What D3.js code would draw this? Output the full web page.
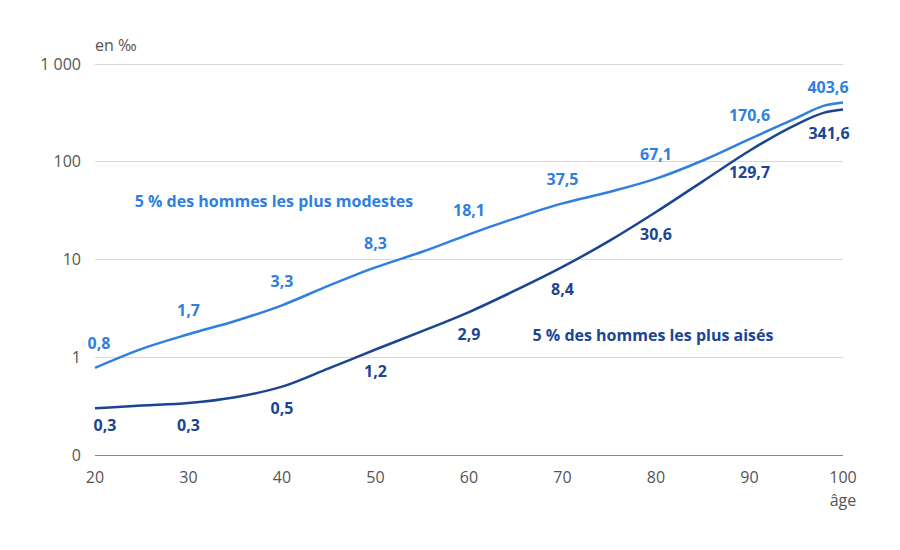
<!DOCTYPE html>
<html>
<head>
<meta charset="utf-8">
<script src="https://cdn.jsdelivr.net/npm/d3@7"></script>
<style>
  body { margin: 0; background: #fff; }
  text { font-family: "Open Sans", sans-serif; }
</style>
</head>
<body>
<svg id="chart"></svg>
<script>
// ages sampled along the curves
const ages = [20, 25, 30, 35, 40, 45, 50, 55, 60, 65, 70, 75, 80, 85, 90, 95, 98, 100];
// mortality rate, per mille
const modestes = [0.78, 1.22, 1.72, 2.35, 3.4, 5.4, 8.3, 12.0, 18.1, 26.5, 37.5, 49, 67.1, 103, 170.6, 280, 375, 403.6];
const aises    = [0.3, 0.32, 0.34, 0.39, 0.5, 0.77, 1.2, 1.85, 2.9, 4.85, 8.4, 15.5, 30.6, 63, 129.7, 240, 318, 341.6];

// labelled points
const labelAges = [20, 30, 40, 50, 60, 70, 80, 90, 100];
const modestesLabels = ["0,8", "1,7", "3,3", "8,3", "18,1", "37,5", "67,1", "170,6", "403,6"];
const aisesLabels    = ["0,3", "0,3", "0,5", "1,2", "2,9", "8,4", "30,6", "129,7", "341,6"];

const yTicks = [0.1, 1, 10, 100, 1000];
const yTickLabels = ["0", "1", "10", "100", "1 000"];
const xTicks = [20, 30, 40, 50, 60, 70, 80, 90, 100];

const lightBlue = "#2f7fe0";
const darkBlue = "#1b4592";

const W = 900, H = 550;
const margin = { top: 64, right: 57, bottom: 95, left: 95 };
const width = W - margin.left - margin.right;
const height = H - margin.top - margin.bottom;

const svg = d3.select("#chart").attr("width", W).attr("height", H);
const g = svg.append("g").attr("transform", `translate(${margin.left},${margin.top})`);

const x = d3.scaleLinear().domain([20, 100]).range([0, width]);
const y = d3.scaleLog().domain([0.1, 1000]).range([height, 0]);

// grid lines
g.selectAll(".grid")
  .data(yTicks.slice(1))
  .enter().append("line")
  .attr("x1", 0).attr("x2", width)
  .attr("y1", d => y(d)).attr("y2", d => y(d))
  .attr("stroke", "#d9d9d9").attr("stroke-width", 1)
  .attr("shape-rendering", "crispEdges");

// bottom axis line
g.append("line")
  .attr("x1", 0).attr("x2", width)
  .attr("y1", height).attr("y2", height)
  .attr("stroke", "#8a8a8a").attr("stroke-width", 1)
  .attr("shape-rendering", "crispEdges");

// y tick labels
g.selectAll(".ytick")
  .data(yTicks)
  .enter().append("text")
  .attr("x", -14)
  .attr("y", d => y(d))
  .attr("dy", "0.35em")
  .attr("text-anchor", "end")
  .attr("font-size", 16)
  .attr("fill", "#555")
  .text((d, i) => yTickLabels[i]);

// x tick labels
g.selectAll(".xtick")
  .data(xTicks)
  .enter().append("text")
  .attr("x", d => x(d))
  .attr("y", height + 22)
  .attr("dy", "0.35em")
  .attr("text-anchor", "middle")
  .attr("font-size", 16)
  .attr("fill", "#555")
  .text(d => d);

svg.append("text")
  .attr("x", 95).attr("y", 45).attr("dy", "0.35em")
  .attr("font-size", 16).attr("fill", "#555")
  .text("en ‰");

svg.append("text")
  .attr("x", margin.left + width).attr("y", 500).attr("dy", "0.35em")
  .attr("text-anchor", "middle")
  .attr("font-size", 16).attr("fill", "#555")
  .text("âge");

const line = d3.line()
  .x(d => x(d[0]))
  .y(d => y(d[1]))
  .curve(d3.curveMonotoneX);

g.append("path")
  .datum(ages.map((a, i) => [a, modestes[i]]))
  .attr("d", line)
  .attr("fill", "none")
  .attr("stroke", lightBlue)
  .attr("stroke-width", 2.5);

g.append("path")
  .datum(ages.map((a, i) => [a, aises[i]]))
  .attr("d", line)
  .attr("fill", "none")
  .attr("stroke", darkBlue)
  .attr("stroke-width", 2.5);

const valueAt = (arr, age) => arr[ages.indexOf(age)];

// value labels
g.selectAll(".lblM")
  .data(labelAges)
  .enter().append("text")
  .attr("x", (d, i) => x(d) + (i === 0 ? 4 : i === labelAges.length - 1 ? -15 : 0))
  .attr("y", (d, i) => y(valueAt(modestes, d)) - (i === labelAges.length - 1 ? 15 : 24))
  .attr("dy", "0.35em")
  .attr("text-anchor", "middle")
  .attr("font-size", 16).attr("font-weight", "bold")
  .attr("fill", lightBlue)
  .text((d, i) => modestesLabels[i]);

g.selectAll(".lblA")
  .data(labelAges)
  .enter().append("text")
  .attr("x", (d, i) => x(d) + (i === 0 ? 10 : i === labelAges.length - 1 ? -14 : 0))
  .attr("y", (d, i) => y(valueAt(aises, d)) + (i === 0 ? 17 : i === labelAges.length - 1 ? 24 : 22))
  .attr("dy", "0.35em")
  .attr("text-anchor", "middle")
  .attr("font-size", 16).attr("font-weight", "bold")
  .attr("fill", darkBlue)
  .text((d, i) => aisesLabels[i]);

// series names
svg.append("text")
  .attr("x", 274).attr("y", 201).attr("dy", "0.35em")
  .attr("text-anchor", "middle")
  .attr("font-size", 16).attr("font-weight", "bold")
  .attr("fill", lightBlue)
  .text("5 % des hommes les plus modestes");

svg.append("text")
  .attr("x", 653).attr("y", 335).attr("dy", "0.35em")
  .attr("text-anchor", "middle")
  .attr("font-size", 16).attr("font-weight", "bold")
  .attr("fill", darkBlue)
  .text("5 % des hommes les plus aisés");
</script>
</body>
</html>
